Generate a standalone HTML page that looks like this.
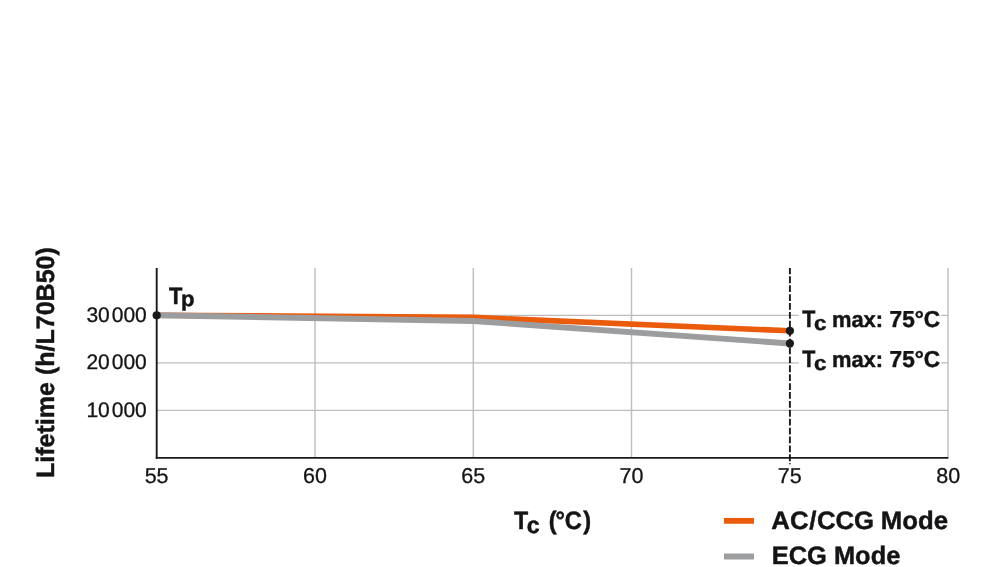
<!DOCTYPE html>
<html>
<head>
<meta charset="utf-8">
<title>Lifetime vs Tc</title>
<style>
  html, body { margin: 0; padding: 0; background: #ffffff; }
  body { width: 1000px; height: 567px; overflow: hidden; font-family: "Liberation Sans", sans-serif; }
  svg { display: block; will-change: transform; }
  text { font-family: "Liberation Sans", sans-serif; fill: #141416; text-rendering: geometricPrecision; }
  .b { font-weight: bold; stroke: #141416; stroke-width: 0.45px; }
</style>
</head>
<body>
<svg width="1000" height="567" viewBox="0 0 1000 567">
  <rect x="0" y="0" width="1000" height="567" fill="#ffffff"/>

  <!-- grid lines -->
  <g stroke="#bcbcbc" stroke-width="1.3" fill="none">
    <line x1="157" y1="315.3" x2="948" y2="315.3"/>
    <line x1="157" y1="362.9" x2="948" y2="362.9"/>
    <line x1="157" y1="410.45" x2="948" y2="410.45"/>
  </g>
  <g stroke="#c0c0c0" stroke-width="1.5" fill="none">
    <line x1="315" y1="268" x2="315" y2="457"/>
    <line x1="473.3" y1="268" x2="473.3" y2="457"/>
    <line x1="631.5" y1="268" x2="631.5" y2="457"/>
    <line x1="948" y1="268" x2="948" y2="457"/>
  </g>

  <!-- white boxes behind annotations -->
  <rect x="798.75" y="305" width="142.5" height="64" fill="#ffffff"/>

  <!-- data lines -->
  <polyline points="157,315.2 473.3,317.4 789.8,330.8" fill="none" stroke="#ea5b0c" stroke-width="5.6" stroke-linejoin="round"/>
  <polyline points="157,315.2 473.3,321 789.8,343.5" fill="none" stroke="#9c9d9f" stroke-width="5.9" stroke-linejoin="round"/>

  <!-- axes -->
  <line x1="156.7" y1="268" x2="156.7" y2="458.7" stroke="#1a1a1d" stroke-width="1.9"/>
  <line x1="155.8" y1="457.8" x2="948.4" y2="457.8" stroke="#1a1a1d" stroke-width="1.8"/>

  <!-- dashed Tc max line -->
  <line x1="789.9" y1="268" x2="789.9" y2="464.3" stroke="#1a1a1d" stroke-width="1.9" stroke-dasharray="6.8 2.1" stroke-dashoffset="0.55"/>

  <!-- dots -->
  <circle cx="156.7" cy="315.3" r="4.1" fill="#1a1a1d"/>
  <circle cx="789.9" cy="330.8" r="4.15" fill="#1a1a1d"/>
  <circle cx="789.9" cy="343.5" r="4.15" fill="#1a1a1d"/>

  <!-- y tick labels -->
  <g font-size="21" text-anchor="end" stroke="#141416" stroke-width="0.3">
    <text x="146.8" y="322">30<tspan dx="2">000</tspan></text>
    <text x="146.8" y="369">20<tspan dx="2">000</tspan></text>
    <text x="146.8" y="417">10<tspan dx="2">000</tspan></text>
  </g>

  <!-- x tick labels -->
  <g font-size="21.5" text-anchor="middle" stroke="#141416" stroke-width="0.3">
    <text x="156.6" y="483">55</text>
    <text x="315" y="483">60</text>
    <text x="473.3" y="483">65</text>
    <text x="631.5" y="483">70</text>
    <text x="789.8" y="483">75</text>
    <text x="948.2" y="483">80</text>
  </g>

  <!-- Tp -->
  <g class="b"><text x="169.1" y="304" font-size="23.7" textLength="13.4" lengthAdjust="spacingAndGlyphs">T</text><text x="180.9" y="306" font-size="21.4" textLength="13.5" lengthAdjust="spacingAndGlyphs">p</text></g>

  <!-- Tc max labels -->
  <g class="b"><text x="802.3" y="327" font-size="23.7" textLength="13.1" lengthAdjust="spacingAndGlyphs">T</text><text x="814" y="330" font-size="20.6" textLength="12.5" lengthAdjust="spacingAndGlyphs">c</text><text x="831.9" y="327" font-size="22.4" textLength="51.2" lengthAdjust="spacingAndGlyphs">max:</text><text x="889.6" y="327" font-size="23.1" textLength="50.6" lengthAdjust="spacingAndGlyphs">75°C</text></g>
  <g class="b"><text x="802.3" y="367" font-size="23.7" textLength="13.1" lengthAdjust="spacingAndGlyphs">T</text><text x="814" y="370" font-size="20.6" textLength="12.5" lengthAdjust="spacingAndGlyphs">c</text><text x="831.9" y="367" font-size="22.4" textLength="51.2" lengthAdjust="spacingAndGlyphs">max:</text><text x="889.6" y="367" font-size="23.1" textLength="50.6" lengthAdjust="spacingAndGlyphs">75°C</text></g>

  <!-- y axis title -->
  <text class="b" transform="translate(53.9,478) rotate(-90)" font-size="25.2" textLength="230.8" lengthAdjust="spacingAndGlyphs">Lifetime (h/L70B50)</text>

  <!-- x axis title -->
  <g class="b"><text x="514.1" y="529" font-size="25.2" textLength="14.2" lengthAdjust="spacingAndGlyphs">T</text><text x="526.8" y="533" font-size="23.2">c</text><text x="548.8" y="529" font-size="25.2" textLength="42.3" lengthAdjust="spacingAndGlyphs">(<tspan dx="-1.2">°</tspan><tspan dx="-0.3">C</tspan><tspan dx="1.5">)</tspan></text></g>

  <!-- legend -->
  <line x1="724" y1="520.85" x2="754" y2="520.85" stroke="#ea5b0c" stroke-width="5.8"/>
  <line x1="724" y1="556.5" x2="754" y2="556.5" stroke="#9c9d9f" stroke-width="6"/>
  <text class="b" x="771.3" y="529" font-size="25.2" textLength="176.8" lengthAdjust="spacingAndGlyphs">AC<tspan dx="0.8">/</tspan><tspan dx="0.4">CCG</tspan><tspan dx="-0.5"> Mode</tspan></text>
  <text class="b" x="771.8" y="564" font-size="25.2" textLength="128.5" lengthAdjust="spacingAndGlyphs">ECG Mode</text>
</svg>
</body>
</html>
